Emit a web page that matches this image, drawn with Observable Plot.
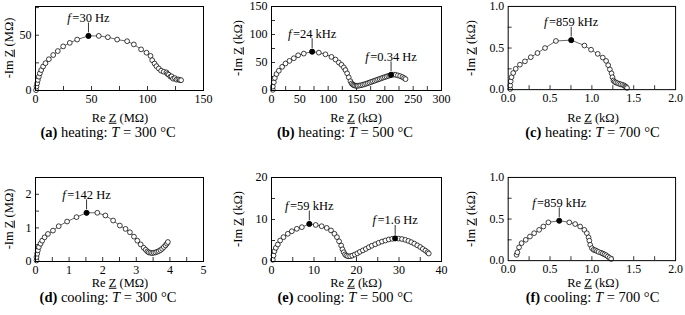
<!DOCTYPE html>
<html><head><meta charset="utf-8">
<script src="https://cdn.jsdelivr.net/npm/d3@7"></script>
<script src="https://cdn.jsdelivr.net/npm/@observablehq/plot@0.6"></script>
<style>
body{margin:0;background:#fff;}
#root{position:relative;width:685px;height:315px;overflow:hidden;font-family:"Liberation Serif","Times New Roman",serif;color:#000;background:#fff;}
#root svg, #root svg text{font-family:"Liberation Serif","Times New Roman",serif !important;}
.panel{position:absolute;}
.lbl{position:absolute;white-space:nowrap;font-size:12.5px;transform:translate(-50%,-50%);line-height:1;}
.ylbl{position:absolute;white-space:nowrap;font-size:12.5px;transform:translate(-50%,-50%) rotate(-90deg);line-height:1;}
.cap{position:absolute;white-space:nowrap;font-size:14.5px;transform:translate(-50%,-50%);line-height:1;}
</style></head><body><div id="root"></div><script>
// ---------- data (Re Z, -Im Z) ----------
// (a) heating 300 °C, MΩ
const aRe = [0.5,0.9,1.5,2.1,3.0,3.9,5.1,6.8,8.9,11.9,15.8,19.9,24.7,30.6,37.2,47.3,56.5,64.6,72.9,81.8,87.8,94.3,99.1,102.7,104.2,106.3,108.0,110.1,112.2,114.5,116.9,117.8,119.0,120.5,121.5,122.9,124.5,125.9,127.5,128.8,130.0];
const aIm = [0.3,3.6,6.5,9.5,12.5,15.5,18.5,21.7,24.7,28.3,32.1,35.7,39.9,43.1,46.1,49.4,49.4,48.2,46.1,44.6,41.7,37.2,34.2,31.3,27.4,24.4,22.0,19.9,17.9,17.0,16.4,15.0,14.3,12.5,12.8,10.7,11.2,9.8,10.0,9.5,9.3];
const aPeakRe = [47.3], aPeakIm = [49.4], aPeakLabel = ["f=30 Hz"];
// (b) heating 500 °C, kΩ
const bRe = [2.3,2.3,4.1,5.9,8.8,12.9,18.8,24.7,31.7,39.4,47.0,57.0,71.7,83.5,95.2,105.8,112.9,118.8,123.5,127.6,130.5,133.5,136.3,139.3,141.5,143.5,145.5,147.5,150,152,155,158,161,164,167,170,173,176,179,182,185,188,191,194,197,200,203,206,209,211,215,219,223,227,231,234,236.5];
const bIm = [1.2,7,14.7,22.3,29.4,35.3,42.3,48.2,52.9,57.6,62.9,65.9,69.4,67.6,64.6,60,55.3,50,45.9,41.2,36.5,30.6,23.5,16.5,12.5,10.5,9.3,8.6,8.3,8.4,8.8,9.4,10.2,11.1,12.1,13.1,14.2,15.3,16.4,17.5,18.6,19.7,20.8,21.9,23,24,25,26,27,28,28.3,28,27,25.7,24,22.2,20.3];
const bPeakRe = [71.7,211], bPeakIm = [69.4,28], bPeakLabel = ["f=24 kHz","f=0.34 Hz"];
// (c) heating 700 °C, kΩ
const cRe = [0.024,0.024,0.03,0.04,0.06,0.09,0.14,0.2,0.27,0.35,0.44,0.57,0.753,0.911,0.99,1.07,1.13,1.17,1.195,1.215,1.235,1.246,1.258,1.27,1.286,1.305,1.325,1.345,1.365,1.385,1.40,1.41,1.42];
const cIm = [0.008,0.05,0.1,0.15,0.2,0.25,0.3,0.34,0.39,0.44,0.5,0.585,0.595,0.53,0.48,0.43,0.385,0.345,0.294,0.243,0.196,0.149,0.11,0.095,0.086,0.078,0.07,0.064,0.059,0.05,0.039,0.03,0.02];
const cPeakRe = [0.753], cPeakIm = [0.595], cPeakLabel = ["f=859 kHz"];
// (d) cooling 300 °C, MΩ
const dRe = [0.03,0.03,0.05,0.07,0.1,0.15,0.2,0.27,0.37,0.52,0.69,0.94,1.22,1.52,1.84,2.08,2.31,2.51,2.68,2.81,2.93,3.03,3.13,3.22,3.28,3.33,3.37,3.42,3.47,3.52,3.57,3.62,3.67,3.72,3.77,3.82,3.87,3.91,3.94];
const dIm = [0.03,0.13,0.23,0.33,0.43,0.53,0.62,0.72,0.82,0.92,1.05,1.19,1.32,1.45,1.45,1.37,1.22,1.07,0.97,0.87,0.74,0.62,0.51,0.41,0.35,0.3,0.27,0.26,0.25,0.26,0.27,0.29,0.31,0.34,0.38,0.43,0.48,0.53,0.58];
const dPeakRe = [1.52], dPeakIm = [1.45], dPeakLabel = ["f=142 Hz"];
// (e) cooling 500 °C, kΩ
const eRe = [0.31,0.47,0.7,1.02,1.49,2.04,2.82,3.84,4.78,5.96,7.14,8.9,10.4,11.8,13.0,14.0,14.8,15.4,15.9,16.4,16.7,17.0,17.3,17.6,18.0,18.5,19.0,19.6,20.2,20.8,21.5,22.2,22.9,23.6,24.4,25.2,26.0,26.8,27.6,28.4,29.1,29.9,30.7,31.5,32.2,32.9,33.6,34.3,35.0,35.6,36.2,36.7,37.0];
const eIm = [0.4,1.43,2.46,3.25,4.05,5.0,5.8,6.6,7.2,7.78,8.17,8.95,8.7,8.4,8.0,7.4,6.6,5.8,4.8,3.8,2.9,2.2,1.7,1.4,1.25,1.25,1.4,1.65,1.95,2.3,2.65,3.0,3.4,3.75,4.1,4.45,4.75,5.0,5.25,5.4,5.5,5.45,5.35,5.15,4.9,4.6,4.25,3.85,3.45,3.0,2.6,2.2,1.9];
const ePeakRe = [8.9,29.1], ePeakIm = [8.95,5.5], ePeakLabel = ["f=59 kHz","f=1.6 Hz"];
// (f) cooling 700 °C, kΩ
const fRe = [0.1,0.11,0.13,0.16,0.21,0.26,0.31,0.37,0.42,0.48,0.61,0.73,0.8,0.86,0.91,0.94,0.96,0.97,0.98,1.0,1.02,1.04,1.06,1.08,1.11,1.13,1.15,1.17,1.19,1.21,1.23];
const fIm = [0.07,0.1,0.16,0.21,0.25,0.29,0.33,0.37,0.41,0.46,0.48,0.46,0.44,0.41,0.37,0.33,0.28,0.24,0.19,0.15,0.13,0.125,0.115,0.105,0.095,0.085,0.075,0.065,0.05,0.035,0.02];
const fPeakRe = [0.61], fPeakIm = [0.48], fPeakLabel = ["f=859 kHz"];

// ---------- ticks ----------
const aXTicks = [0,50,100,150], aYTicks = [0,50];
const bXTicks = [0,50,100,150,200,250,300], bYTicks = [0,50,100,150];
const cXTicks = [0,0.5,1,1.5,2], cYTicks = [0,0.5,1];
const dXTicks = [0,1,2,3,4,5], dYTicks = [0,1,2];
const eXTicks = [0,10,20,30,40], eYTicks = [0,10,20];
const fXTicks = [0,0.5,1,1.5,2], fYTicks = [0,0.5,1];
const aXMinor = [25,50,75,100,125], aYMinor = [25,50,75];
const bXMinor = [25,50,75,100,125,150,175,200,225,250,275], bYMinor = [25,50,75,100,125];
const cXMinor = [0.25,0.5,0.75,1,1.25,1.5,1.75], cYMinor = [0.25,0.5,0.75];
const dXMinor = [0.5,1,1.5,2,2.5,3,3.5,4,4.5], dYMinor = [0.5,1,1.5,2];
const eXMinor = [5,10,15,20,25,30,35], eYMinor = [5,10,15];
const fXMinor = [0.25,0.5,0.75,1,1.25,1.5,1.75], fYMinor = [0.25,0.5,0.75];

// ---------- texts ----------
const letters = ["a","b","c","d","e","f"];
const modes = ["heating","heating","heating","cooling","cooling","cooling"];
const temps = ["300","500","700","300","500","700"];
const units = ["MΩ","kΩ","kΩ","MΩ","kΩ","kΩ"];

const f1 = d3.format(".1f");
const fi = d => String(d);
const panels = [
  {re:aRe, im:aIm, pRe:aPeakRe, pIm:aPeakIm, pLab:aPeakLabel, xd:[0,150], yd:[0,76], xt:aXTicks, yt:aYTicks, xm:aXMinor, ym:aYMinor, fmt:fi, L:35, T:6, W:168, H:84, xl:120, yl:9},
  {re:bRe, im:bIm, pRe:bPeakRe, pIm:bPeakIm, pLab:bPeakLabel, xd:[0,300], yd:[0,150], xt:bXTicks, yt:bYTicks, xm:bXMinor, ym:bYMinor, fmt:fi, L:271, T:6, W:170, H:84, xl:356, yl:238},
  {re:cRe, im:cIm, pRe:cPeakRe, pIm:cPeakIm, pLab:cPeakLabel, xd:[0,2], yd:[0,1], xt:cXTicks, yt:cYTicks, xm:cXMinor, ym:cYMinor, fmt:f1, L:508, T:6, W:169, H:84, xl:593, yl:471},
  {re:dRe, im:dIm, pRe:dPeakRe, pIm:dPeakIm, pLab:dPeakLabel, xd:[0,5], yd:[0,2.5], xt:dXTicks, yt:dYTicks, xm:dXMinor, ym:dYMinor, fmt:fi, L:35, T:177, W:168, H:84, xl:120, yl:9},
  {re:eRe, im:eIm, pRe:ePeakRe, pIm:ePeakIm, pLab:ePeakLabel, xd:[0,40], yd:[0,20], xt:eXTicks, yt:eYTicks, xm:eXMinor, ym:eYMinor, fmt:fi, L:271, T:177, W:170, H:84, xl:356, yl:238},
  {re:fRe, im:fIm, pRe:fPeakRe, pIm:fPeakIm, pLab:fPeakLabel, xd:[0,2], yd:[0,1], xt:fXTicks, yt:fYTicks, xm:fXMinor, ym:fYMinor, fmt:f1, L:508, T:177, W:169, H:84, xl:593, yl:471}
];

const root = document.getElementById("root");
const tickShape = {draw(context, l) { context.moveTo(0, 0); context.lineTo(0, -l); }};

panels.forEach((p, k) => {
  const mL = 34, mR = 10, mT = 6, mB = 22;
  const data = p.re.map((x, i) => ({x, y: p.im[i]}));
  const peaks = p.pRe.map((x, i) => ({x, y: p.pIm[i], label: p.pLab[i]}));
  const svg = Plot.plot({
    width: p.W + mL + mR, height: p.H + mT + mB,
    marginLeft: mL, marginRight: mR, marginTop: mT, marginBottom: mB,
    style: {fontFamily: "'Liberation Serif', serif", fontSize: "12px", background: "none", color: "black", overflow: "visible"},
    x: {domain: p.xd}, y: {domain: p.yd},
    marks: [
      Plot.axisX({ticks: p.xt, tickSize: 0, tickPadding: 4, tickFormat: p.fmt, label: null}),
      Plot.axisY({ticks: p.yt, tickSize: 0, tickPadding: 4, tickFormat: p.fmt, label: null}),
      Plot.tickX(p.xm, {x: d => d, insetTop: p.H - 4, stroke: "black", strokeWidth: 0.8}),
      Plot.tickY(p.ym, {y: d => d, insetRight: p.W - 4, stroke: "black", strokeWidth: 0.8}),
      Plot.line(data, {x: "x", y: "y", stroke: "black", strokeWidth: 0.6}),
      Plot.dot(data, {x: "x", y: "y", r: 2.4, stroke: "black", strokeWidth: 0.75, fill: "white"}),
      Plot.dot(peaks, {x: "x", y: "y", r: 2.6, fill: "black", stroke: "black", strokeWidth: 0.5}),
      Plot.vector(peaks, {x: "x", y: "y", length: 9, rotate: 0, anchor: "start", dy: -4, shape: tickShape, stroke: "black", strokeWidth: 0.8}),
      Plot.text(peaks, {x: "x", y: "y", text: "label", dy: -14, lineAnchor: "bottom", fontSize: 12.5}),
      Plot.frame({stroke: "black", strokeWidth: 1})
    ]
  });
  d3.select(svg).selectAll("text").attr("font-family", "Liberation Serif")
    .style("font-family", "'Liberation Serif', serif");
  d3.select(svg).selectAll("text").filter(function() { return this.textContent.startsWith("f="); })
    .each(function() {
      const rest = this.textContent.slice(1);
      this.textContent = "";
      d3.select(this).append("tspan").attr("font-style", "italic").text("f");
      d3.select(this).append("tspan").attr("dx", "1.5").text(rest);
    });
  const div = document.createElement("div");
  div.className = "panel";
  div.style.left = (p.L - mL) + "px";
  div.style.top = (p.T - mT) + "px";
  div.appendChild(svg);
  root.appendChild(div);

  const row2 = k >= 3;
  const xl = document.createElement("div");
  xl.className = "lbl";
  xl.style.left = p.xl + "px";
  xl.style.top = (row2 ? 283 : 118) + "px";
  xl.innerHTML = `Re <u>Z</u> (${units[k]})`;
  root.appendChild(xl);

  const yl = document.createElement("div");
  yl.className = "ylbl";
  yl.style.left = p.yl + "px";
  yl.style.top = (p.T + p.H / 2) + "px";
  yl.innerHTML = `-Im <u>Z</u> (${units[k]})`;
  root.appendChild(yl);

  const cap = document.createElement("div");
  cap.className = "cap";
  cap.style.left = (p.L + p.W / 2 - (k % 3 === 2 ? 0 : 11)) + "px";
  cap.style.top = (row2 ? 297 : 132) + "px";
  cap.innerHTML = `<b>(${letters[k]})</b> ${modes[k]}: <i>T</i> = ${temps[k]} °C`;
  root.appendChild(cap);
});
</script></body></html>
